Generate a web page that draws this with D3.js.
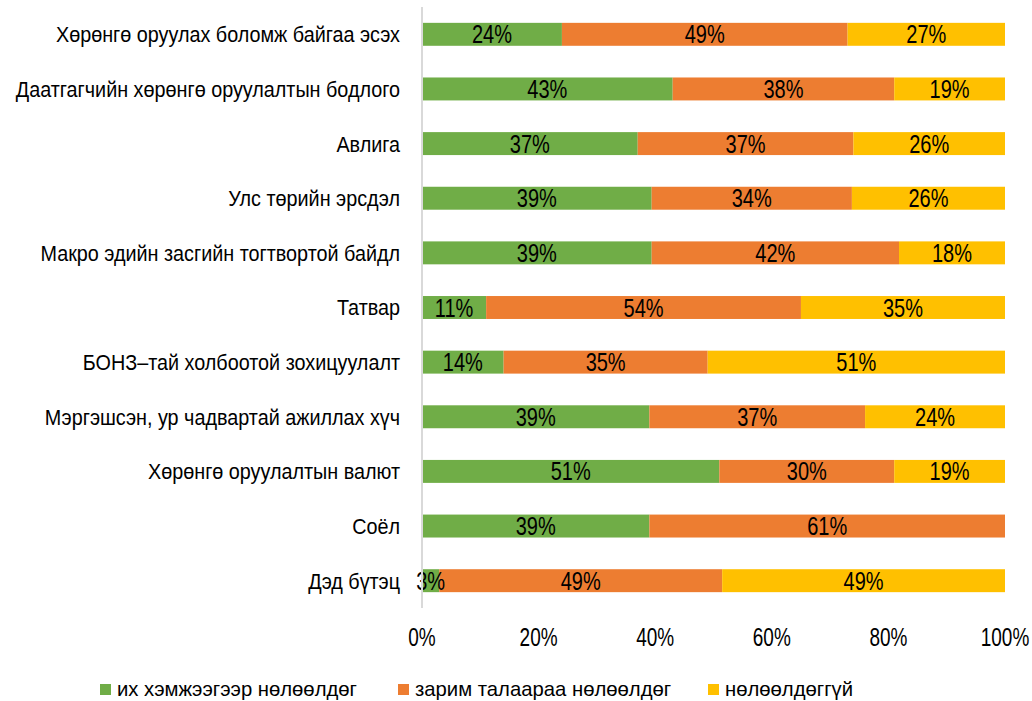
<!DOCTYPE html>
<html>
<head>
<meta charset="utf-8">
<script src="https://cdn.jsdelivr.net/npm/d3@7"></script>
<style>
  body { margin: 0; background: #fff; }
  svg text { font-family: "Liberation Sans", Arial, sans-serif; fill: #000; }
</style>
</head>
<body>
<div id="wrapper"></div>
<script>
// categories, top to bottom
const categories = [
  "Хөрөнгө оруулах боломж байгаа эсэх",
  "Даатгагчийн хөрөнгө оруулалтын бодлого",
  "Авлига",
  "Улс төрийн эрсдэл",
  "Макро эдийн засгийн тогтвортой байдл",
  "Татвар",
  "БОНЗ–тай холбоотой зохицуулалт",
  "Мэргэшсэн, ур чадвартай ажиллах хүч",
  "Хөрөнгө оруулалтын валют",
  "Соёл",
  "Дэд бүтэц"
]
const seriesNames = ["их хэмжээгээр нөлөөлдөг", "зарим талаараа нөлөөлдөг", "нөлөөлдөггүй"]
const strong = [24, 43, 37, 39, 39, 11, 14, 39, 51, 39, 3]
const some   = [49, 38, 37, 34, 42, 54, 35, 37, 30, 61, 49]
const none   = [27, 19, 26, 26, 18, 35, 51, 24, 19, 0, 49]
const xTicks = [0, 0.2, 0.4, 0.6, 0.8, 1]
const colors = ["#70AD47", "#ED7D31", "#FFC000"]

// squeeze text horizontally to mimic the narrow font of the original
function squeeze(sel, factor) {
  sel.each(function () {
    const w = this.getComputedTextLength()
    d3.select(this)
      .attr("textLength", w * factor)
      .attr("lengthAdjust", "spacingAndGlyphs")
  })
}

function drawChart() {
  const dimensions = {
    width: 1032,
    height: 701,
    margins: { top: 7, right: 27, bottom: 93, left: 422 }
  }
  dimensions.boundedWidth = dimensions.width - dimensions.margins.left - dimensions.margins.right
  dimensions.boundedHeight = dimensions.height - dimensions.margins.top - dimensions.margins.bottom

  const table = categories.map((c, i) => ({ cat: c, s0: strong[i], s1: some[i], s2: none[i] }))
  const keys = ["s0", "s1", "s2"]
  const stacked = d3.stack().keys(keys).offset(d3.stackOffsetExpand)(table)

  const wrapper = d3.select("#wrapper").append("svg")
    .attr("width", dimensions.width)
    .attr("height", dimensions.height)

  const bounds = wrapper.append("g")
    .attr("transform", `translate(${dimensions.margins.left},${dimensions.margins.top})`)

  const xScale = d3.scaleLinear().domain([0, 1]).range([0, dimensions.boundedWidth])
  const yScale = d3.scaleBand().domain(categories).range([0, dimensions.boundedHeight])
    .paddingInner(0.58).paddingOuter(0.29)

  // bars
  const layers = bounds.selectAll(".layer").data(stacked).join("g")
    .attr("fill", (d, i) => colors[i])
  layers.selectAll("rect").data(d => d).join("rect")
    .attr("x", d => xScale(d[0]))
    .attr("y", d => yScale(d.data.cat))
    .attr("width", d => xScale(d[1]) - xScale(d[0]))
    .attr("height", yScale.bandwidth())

  // value labels
  stacked.forEach((layer, li) => {
    const raw = [strong, some, none][li]
    const labels = bounds.append("g").selectAll("text")
      .data(layer.map((d, i) => ({ d, v: raw[i] })).filter(o => o.v > 0))
      .join("text")
        .attr("x", o => xScale((o.d[0] + o.d[1]) / 2))
        .attr("y", o => yScale(o.d.data.cat) + yScale.bandwidth() / 2)
        .attr("dy", "0.36em")
        .attr("text-anchor", "middle")
        .style("font-size", "25px")
        .text(o => o.v + "%")
    squeeze(labels, 0.8)
  })

  // y axis line + category labels
  bounds.append("line")
    .attr("x1", 0).attr("x2", 0)
    .attr("y1", 0).attr("y2", dimensions.boundedHeight)
    .attr("stroke", "#D9D9D9").attr("stroke-width", 2)
  const catLabels = bounds.append("g").selectAll("text").data(categories).join("text")
    .attr("x", -22)
    .attr("y", d => yScale(d) + yScale.bandwidth() / 2)
    .attr("dy", "0.36em")
    .attr("text-anchor", "end")
    .style("font-size", "22px")
    .text(d => d)
  const firstW = catLabels.node().getComputedTextLength()
  squeeze(catLabels, 344 / firstW)

  // x tick labels (narrowed with a scale so their boxes stay inside the page)
  bounds.append("g").selectAll("g").data(xTicks).join("g")
    .attr("transform", d => `translate(${xScale(d)},${dimensions.boundedHeight + 29}) scale(0.76,1)`)
    .append("text")
      .attr("dy", "0.36em")
      .attr("text-anchor", "middle")
      .style("font-size", "25px")
      .text(d3.format(".0%"))

  // legend
  const legendX = [100, 398, 708]
  const legend = wrapper.append("g").selectAll("g").data(seriesNames).join("g")
    .attr("transform", (d, i) => `translate(${legendX[i]},689)`)
  legend.append("rect")
    .attr("x", 0).attr("y", -5).attr("width", 11).attr("height", 11)
    .attr("fill", (d, i) => colors[i])
  const legendText = legend.append("text")
    .attr("x", 17).attr("y", 0).attr("dy", "0.34em")
    .style("font-size", "21px")
    .text(d => d)
  const legW = legendText.node().getComputedTextLength()
  squeeze(legendText, 240 / legW)
}

drawChart()
</script>
</body>
</html>
